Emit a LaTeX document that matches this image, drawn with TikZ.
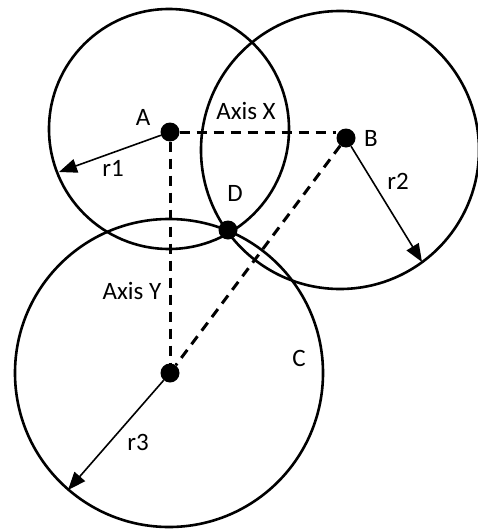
\documentclass[tikz,border=0pt]{standalone}
\usepackage{fontspec}
\setmainfont{Carlito}
\usepackage{tikz}
\usetikzlibrary{arrows.meta}

\begin{document}
\begin{tikzpicture}[x=1pt, y=-1pt, font=\fontsize{25}{30}\selectfont,
	dot/.style={circle, fill=black, inner sep=0pt, minimum size=19pt},
	ring/.style={line width=2.6pt},
	rad/.style={-{Triangle[length=18pt, width=14pt]}, line width=1.6pt},
	axisline/.style={line width=3pt, dash pattern=on 10pt off 7pt}]
	\useasboundingbox (0,0) rectangle (477,530);

	% the three circles
	\draw[ring] (169,129) circle [radius=120pt];
	\draw[ring] (340,150) circle [radius=139pt];
	\draw[ring] (169,373) circle [radius=154pt];

	\node[dot] (A) at (170,132) {};
	\node[dot] (B) at (346,138) {};
	\node[dot] (C) at (170,373) {};
	\node[dot] (D) at (228,230) {};

	\coordinate (r1end) at (59,172);
	\coordinate (r2end) at (422,262);
	\coordinate (r3end) at (68,490);

	% axes
	\draw[axisline] (A) -- (A -| B.west);
	\draw[axisline] (A) -- (C);
	\draw[axisline] (B) -- (C);

	% radii
	\draw[rad] (A) -- (r1end);
	\draw[rad] (B) -- (r2end);
	\draw[rad] (C) -- (r3end);

	\node (labA) at (143,117) {A};
	\node (labB) at (371,138) {B};
	\node (labC) at (299,358) {C};
	\node (labD) at (235,193) {D};
	\node (axisX) at (246,111) {Axis X};
	\node (axisY) at (132,291) {Axis Y};
	\node (labr1) at (113,168) {r1};
	\node (labr2) at (398,181) {r2};
	\node (labr3) at (138,442) {r3};
\end{tikzpicture}
\end{document}
